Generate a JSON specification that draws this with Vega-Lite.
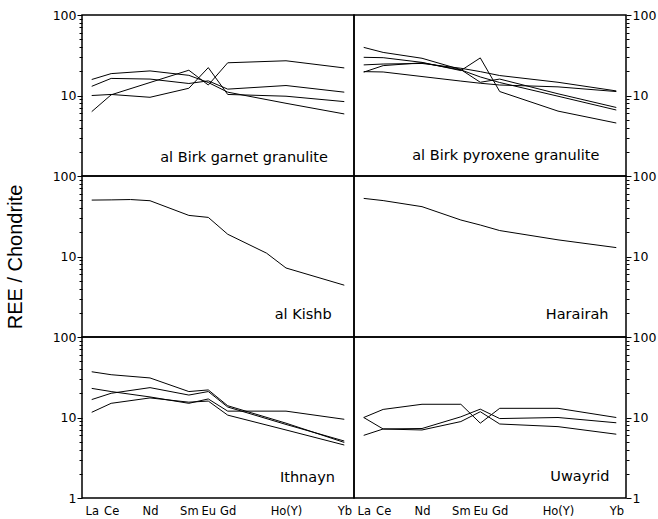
{
  "$schema": "https://vega.github.io/schema/vega-lite/v6.json",
  "background": "white",
  "padding": {"left": 4, "right": 3, "top": 8, "bottom": 0},
  "config": {
    "view": {"stroke": "black", "strokeWidth": 1.5},
    "font": "DejaVu Sans",
    "axis": {"labelFont": "DejaVu Sans", "labelColor": "black", "tickColor": "black", "grid": false, "domain": false, "labelOverlap": false, "labelFlush": false, "titleColor": "black"},
    "text": {"font": "DejaVu Sans", "color": "black"}
  },
  "datasets": {
    "ree": [
      {"panel":"gg","sample":1,"z":57,"ree":15.8},{"panel":"gg","sample":1,"z":58,"ree":18.7},{"panel":"gg","sample":1,"z":60,"ree":20.2},{"panel":"gg","sample":1,"z":62,"ree":17.8},{"panel":"gg","sample":1,"z":63,"ree":14.5},{"panel":"gg","sample":1,"z":64,"ree":11},{"panel":"gg","sample":1,"z":67,"ree":8},{"panel":"gg","sample":1,"z":70,"ree":5.9},
      {"panel":"gg","sample":2,"z":57,"ree":13},{"panel":"gg","sample":2,"z":58,"ree":16.3},{"panel":"gg","sample":2,"z":60,"ree":16},{"panel":"gg","sample":2,"z":62,"ree":14.1},{"panel":"gg","sample":2,"z":63,"ree":15.2},{"panel":"gg","sample":2,"z":64,"ree":12},{"panel":"gg","sample":2,"z":67,"ree":13.3},{"panel":"gg","sample":2,"z":70,"ree":11},
      {"panel":"gg","sample":3,"z":57,"ree":10},{"panel":"gg","sample":3,"z":58,"ree":10.3},{"panel":"gg","sample":3,"z":60,"ree":9.5},{"panel":"gg","sample":3,"z":62,"ree":12.3},{"panel":"gg","sample":3,"z":63,"ree":22.2},{"panel":"gg","sample":3,"z":64,"ree":10.3},{"panel":"gg","sample":3,"z":67,"ree":9.8},{"panel":"gg","sample":3,"z":70,"ree":8.4},
      {"panel":"gg","sample":4,"z":57,"ree":6.3},{"panel":"gg","sample":4,"z":58,"ree":10.2},{"panel":"gg","sample":4,"z":60,"ree":14.5},{"panel":"gg","sample":4,"z":62,"ree":20.6},{"panel":"gg","sample":4,"z":63,"ree":13.5},{"panel":"gg","sample":4,"z":64,"ree":25.5},{"panel":"gg","sample":4,"z":67,"ree":27},{"panel":"gg","sample":4,"z":70,"ree":22},

      {"panel":"pg","sample":1,"z":57,"ree":39.6},{"panel":"pg","sample":1,"z":58,"ree":34.3},{"panel":"pg","sample":1,"z":60,"ree":29},{"panel":"pg","sample":1,"z":62,"ree":21},{"panel":"pg","sample":1,"z":63,"ree":14.6},{"panel":"pg","sample":1,"z":64,"ree":16},{"panel":"pg","sample":1,"z":67,"ree":10.5},{"panel":"pg","sample":1,"z":70,"ree":7.1},
      {"panel":"pg","sample":2,"z":57,"ree":29.8},{"panel":"pg","sample":2,"z":58,"ree":29.5},{"panel":"pg","sample":2,"z":60,"ree":25.8},{"panel":"pg","sample":2,"z":62,"ree":20.4},{"panel":"pg","sample":2,"z":63,"ree":29.3},{"panel":"pg","sample":2,"z":64,"ree":11.2},{"panel":"pg","sample":2,"z":67,"ree":6.4},{"panel":"pg","sample":2,"z":70,"ree":4.55},
      {"panel":"pg","sample":3,"z":57,"ree":24},{"panel":"pg","sample":3,"z":58,"ree":24.6},{"panel":"pg","sample":3,"z":60,"ree":25},{"panel":"pg","sample":3,"z":62,"ree":21.8},{"panel":"pg","sample":3,"z":63,"ree":19.8},{"panel":"pg","sample":3,"z":64,"ree":17.7},{"panel":"pg","sample":3,"z":67,"ree":14.6},{"panel":"pg","sample":3,"z":70,"ree":11.4},
      {"panel":"pg","sample":4,"z":57,"ree":19.5},{"panel":"pg","sample":4,"z":58,"ree":23.5},{"panel":"pg","sample":4,"z":60,"ree":25.5},{"panel":"pg","sample":4,"z":62,"ree":20.8},{"panel":"pg","sample":4,"z":63,"ree":17},{"panel":"pg","sample":4,"z":64,"ree":14.5},{"panel":"pg","sample":4,"z":67,"ree":9.8},{"panel":"pg","sample":4,"z":70,"ree":6.6},
      {"panel":"pg","sample":5,"z":57,"ree":19.8},{"panel":"pg","sample":5,"z":58,"ree":19.6},{"panel":"pg","sample":5,"z":60,"ree":17.2},{"panel":"pg","sample":5,"z":62,"ree":15.1},{"panel":"pg","sample":5,"z":63,"ree":14.2},{"panel":"pg","sample":5,"z":64,"ree":13.5},{"panel":"pg","sample":5,"z":67,"ree":12.8},{"panel":"pg","sample":5,"z":70,"ree":11.2},

      {"panel":"ak","sample":1,"z":57,"ree":50.2},{"panel":"ak","sample":1,"z":58,"ree":50.5},{"panel":"ak","sample":1,"z":59,"ree":51},{"panel":"ak","sample":1,"z":60,"ree":49.3},{"panel":"ak","sample":1,"z":62,"ree":32.4},{"panel":"ak","sample":1,"z":63,"ree":30.6},{"panel":"ak","sample":1,"z":64,"ree":18.9},{"panel":"ak","sample":1,"z":66,"ree":11},{"panel":"ak","sample":1,"z":67,"ree":7.2},{"panel":"ak","sample":1,"z":70,"ree":4.4},

      {"panel":"hr","sample":1,"z":57,"ree":52.7},{"panel":"hr","sample":1,"z":58,"ree":49.5},{"panel":"hr","sample":1,"z":60,"ree":41.6},{"panel":"hr","sample":1,"z":62,"ree":28.4},{"panel":"hr","sample":1,"z":63,"ree":24.6},{"panel":"hr","sample":1,"z":64,"ree":21},{"panel":"hr","sample":1,"z":67,"ree":16.1},{"panel":"hr","sample":1,"z":70,"ree":12.9},

      {"panel":"it","sample":1,"z":57,"ree":37},{"panel":"it","sample":1,"z":58,"ree":34},{"panel":"it","sample":1,"z":60,"ree":31},{"panel":"it","sample":1,"z":62,"ree":21},{"panel":"it","sample":1,"z":63,"ree":22},{"panel":"it","sample":1,"z":64,"ree":14},{"panel":"it","sample":1,"z":67,"ree":8.5},{"panel":"it","sample":1,"z":70,"ree":4.9},
      {"panel":"it","sample":2,"z":57,"ree":23},{"panel":"it","sample":2,"z":58,"ree":21},{"panel":"it","sample":2,"z":60,"ree":18},{"panel":"it","sample":2,"z":62,"ree":15},{"panel":"it","sample":2,"z":63,"ree":17},{"panel":"it","sample":2,"z":64,"ree":12},{"panel":"it","sample":2,"z":67,"ree":12},{"panel":"it","sample":2,"z":70,"ree":9.5},
      {"panel":"it","sample":3,"z":57,"ree":16.7},{"panel":"it","sample":3,"z":58,"ree":20},{"panel":"it","sample":3,"z":60,"ree":23.5},{"panel":"it","sample":3,"z":62,"ree":19},{"panel":"it","sample":3,"z":63,"ree":21},{"panel":"it","sample":3,"z":64,"ree":13.5},{"panel":"it","sample":3,"z":67,"ree":8.2},{"panel":"it","sample":3,"z":70,"ree":5.1},
      {"panel":"it","sample":4,"z":57,"ree":11.6},{"panel":"it","sample":4,"z":58,"ree":15},{"panel":"it","sample":4,"z":60,"ree":17.5},{"panel":"it","sample":4,"z":62,"ree":15.5},{"panel":"it","sample":4,"z":63,"ree":16},{"panel":"it","sample":4,"z":64,"ree":10.7},{"panel":"it","sample":4,"z":67,"ree":7},{"panel":"it","sample":4,"z":70,"ree":4.55},

      {"panel":"uw","sample":1,"z":57,"ree":10},{"panel":"uw","sample":1,"z":58,"ree":12.6},{"panel":"uw","sample":1,"z":60,"ree":14.6},{"panel":"uw","sample":1,"z":62,"ree":14.6},{"panel":"uw","sample":1,"z":63,"ree":8.5},{"panel":"uw","sample":1,"z":64,"ree":13},{"panel":"uw","sample":1,"z":67,"ree":13},{"panel":"uw","sample":1,"z":70,"ree":10},
      {"panel":"uw","sample":2,"z":57,"ree":10},{"panel":"uw","sample":2,"z":58,"ree":7.2},{"panel":"uw","sample":2,"z":60,"ree":7.3},{"panel":"uw","sample":2,"z":62,"ree":10.2},{"panel":"uw","sample":2,"z":63,"ree":12.7},{"panel":"uw","sample":2,"z":64,"ree":9.7},{"panel":"uw","sample":2,"z":67,"ree":10},{"panel":"uw","sample":2,"z":70,"ree":8.6},
      {"panel":"uw","sample":3,"z":57,"ree":6},{"panel":"uw","sample":3,"z":58,"ree":7.2},{"panel":"uw","sample":3,"z":60,"ree":7},{"panel":"uw","sample":3,"z":62,"ree":8.9},{"panel":"uw","sample":3,"z":63,"ree":11.8},{"panel":"uw","sample":3,"z":64,"ree":8.3},{"panel":"uw","sample":3,"z":67,"ree":7.7},{"panel":"uw","sample":3,"z":70,"ree":6.2}
    ]
  },
  "columns": 2,
  "spacing": 0,
  "bounds": "flush",
  "concat": [
    {
      "width": 272, "height": 161,
      "layer": [
        {
          "data": {"name": "ree"},
          "transform": [{"filter": "datum.panel === 'gg'"}],
          "mark": {"type": "line", "color": "black", "strokeWidth": 1},
          "encoding": {
            "x": {"field": "z", "type": "quantitative", "scale": {"domain": [56.5, 70.5], "nice": false, "zero": false}, "axis": null},
            "y": {"field": "ree", "type": "quantitative", "scale": {"type": "log", "domain": [1, 100], "nice": false}, "axis": {"orient": "left", "title": null, "tickCount": 40, "labelOverlap": false, "values": [1,2,3,4,5,6,7,8,9,10,20,30,40,50,60,70,80,90,100], "labelExpr": "datum.value == 10 ? '10' : datum.value == 100 ? '100' : ''", "tickSize": {"condition": {"test": "datum.value == 10 || datum.value == 100", "value": 5}, "value": 3}, "labelFontSize": 12.5, "labelPadding": 1}},
            "detail": {"field": "sample", "type": "nominal"}
          }
        },
        {
          "data": {"values": [{"label": "al Birk garnet granulite"}]},
          "mark": {"type": "text", "align": "right", "baseline": "alphabetic", "fontSize": 14.5},
          "encoding": {"x": {"datum": 69.16, "type": "quantitative"}, "y": {"datum": 1.51, "type": "quantitative"}, "text": {"field": "label", "type": "nominal"}}
        }
      ]
    },
    {
      "width": 272, "height": 161,
      "layer": [
        {
          "data": {"name": "ree"},
          "transform": [{"filter": "datum.panel === 'pg'"}],
          "mark": {"type": "line", "color": "black", "strokeWidth": 1},
          "encoding": {
            "x": {"field": "z", "type": "quantitative", "scale": {"domain": [56.5, 70.5], "nice": false, "zero": false}, "axis": null},
            "y": {"field": "ree", "type": "quantitative", "scale": {"type": "log", "domain": [1, 100], "nice": false}, "axis": {"orient": "right", "title": null, "tickCount": 40, "labelOverlap": false, "values": [1,2,3,4,5,6,7,8,9,10,20,30,40,50,60,70,80,90,100], "labelExpr": "datum.value == 10 ? '10' : datum.value == 100 ? '100' : ''", "tickSize": {"condition": {"test": "datum.value == 10 || datum.value == 100", "value": 5}, "value": 3}, "labelFontSize": 12.5, "labelPadding": 1}},
            "detail": {"field": "sample", "type": "nominal"}
          }
        },
        {
          "data": {"values": [{"label": "al Birk pyroxene granulite"}]},
          "mark": {"type": "text", "align": "right", "baseline": "alphabetic", "fontSize": 14.5},
          "encoding": {"x": {"datum": 69.13, "type": "quantitative"}, "y": {"datum": 1.57, "type": "quantitative"}, "text": {"field": "label", "type": "nominal"}}
        }
      ]
    },
    {
      "width": 272, "height": 161,
      "layer": [
        {
          "data": {"name": "ree"},
          "transform": [{"filter": "datum.panel === 'ak'"}],
          "mark": {"type": "line", "color": "black", "strokeWidth": 1},
          "encoding": {
            "x": {"field": "z", "type": "quantitative", "scale": {"domain": [56.5, 70.5], "nice": false, "zero": false}, "axis": null},
            "y": {"field": "ree", "type": "quantitative", "scale": {"type": "log", "domain": [1, 100], "nice": false}, "axis": {"orient": "left", "title": "REE / Chondrite", "titleFont": "Liberation Sans", "titleFontSize": 20, "titleFontWeight": "normal", "titlePadding": 27, "tickCount": 40, "labelOverlap": false, "values": [1,2,3,4,5,6,7,8,9,10,20,30,40,50,60,70,80,90,100], "labelExpr": "datum.value == 10 ? '10' : datum.value == 100 ? '100' : ''", "tickSize": {"condition": {"test": "datum.value == 10 || datum.value == 100", "value": 5}, "value": 3}, "labelFontSize": 12.5, "labelPadding": 1}},
            "detail": {"field": "sample", "type": "nominal"}
          }
        },
        {
          "data": {"values": [{"label": "al Kishb"}]},
          "mark": {"type": "text", "align": "right", "baseline": "alphabetic", "fontSize": 14.5},
          "encoding": {"x": {"datum": 69.35, "type": "quantitative"}, "y": {"datum": 1.69, "type": "quantitative"}, "text": {"field": "label", "type": "nominal"}}
        }
      ]
    },
    {
      "width": 272, "height": 161,
      "layer": [
        {
          "data": {"name": "ree"},
          "transform": [{"filter": "datum.panel === 'hr'"}],
          "mark": {"type": "line", "color": "black", "strokeWidth": 1},
          "encoding": {
            "x": {"field": "z", "type": "quantitative", "scale": {"domain": [56.5, 70.5], "nice": false, "zero": false}, "axis": null},
            "y": {"field": "ree", "type": "quantitative", "scale": {"type": "log", "domain": [1, 100], "nice": false}, "axis": {"orient": "right", "title": null, "tickCount": 40, "labelOverlap": false, "values": [1,2,3,4,5,6,7,8,9,10,20,30,40,50,60,70,80,90,100], "labelExpr": "datum.value == 10 ? '10' : datum.value == 100 ? '100' : ''", "tickSize": {"condition": {"test": "datum.value == 10 || datum.value == 100", "value": 5}, "value": 3}, "labelFontSize": 12.5, "labelPadding": 1}},
            "detail": {"field": "sample", "type": "nominal"}
          }
        },
        {
          "data": {"values": [{"label": "Harairah"}]},
          "mark": {"type": "text", "align": "right", "baseline": "alphabetic", "fontSize": 14.5},
          "encoding": {"x": {"datum": 69.6, "type": "quantitative"}, "y": {"datum": 1.65, "type": "quantitative"}, "text": {"field": "label", "type": "nominal"}}
        }
      ]
    },
    {
      "width": 272, "height": 161,
      "layer": [
        {
          "data": {"name": "ree"},
          "transform": [{"filter": "datum.panel === 'it'"}],
          "mark": {"type": "line", "color": "black", "strokeWidth": 1},
          "encoding": {
            "x": {"field": "z", "type": "quantitative", "scale": {"domain": [56.5, 70.5], "nice": false, "zero": false}, "axis": {"orient": "bottom", "title": null, "tickCount": 40, "labelOverlap": false, "labelBound": false, "values": [57,58,60,62,63,64,67,70], "labelExpr": "datum.value == 57 ? 'La' : datum.value == 58 ? 'Ce' : datum.value == 60 ? 'Nd' : datum.value == 62 ? 'Sm' : datum.value == 63 ? 'Eu' : datum.value == 64 ? 'Gd' : datum.value == 67 ? 'Ho(Y)' : 'Yb'", "ticks": false, "labelFontSize": 11.5, "labelPadding": 7}},
            "y": {"field": "ree", "type": "quantitative", "scale": {"type": "log", "domain": [1, 100], "nice": false}, "axis": {"orient": "left", "title": null, "tickCount": 40, "labelOverlap": false, "values": [1,2,3,4,5,6,7,8,9,10,20,30,40,50,60,70,80,90,100], "labelExpr": "datum.value == 1 ? '1' : datum.value == 10 ? '10' : datum.value == 100 ? '100' : ''", "tickSize": {"condition": {"test": "datum.value == 1 || datum.value == 10 || datum.value == 100", "value": 5}, "value": 3}, "labelFontSize": 12.5, "labelPadding": 1}},
            "detail": {"field": "sample", "type": "nominal"}
          }
        },
        {
          "data": {"values": [{"label": "Ithnayn"}]},
          "mark": {"type": "text", "align": "right", "baseline": "alphabetic", "fontSize": 14.5},
          "encoding": {"x": {"datum": 69.52, "type": "quantitative"}, "y": {"datum": 1.58, "type": "quantitative"}, "text": {"field": "label", "type": "nominal"}}
        }
      ]
    },
    {
      "width": 272, "height": 161,
      "layer": [
        {
          "data": {"name": "ree"},
          "transform": [{"filter": "datum.panel === 'uw'"}],
          "mark": {"type": "line", "color": "black", "strokeWidth": 1},
          "encoding": {
            "x": {"field": "z", "type": "quantitative", "scale": {"domain": [56.5, 70.5], "nice": false, "zero": false}, "axis": {"orient": "bottom", "title": null, "tickCount": 40, "labelOverlap": false, "labelBound": false, "values": [57,58,60,62,63,64,67,70], "labelExpr": "datum.value == 57 ? 'La' : datum.value == 58 ? 'Ce' : datum.value == 60 ? 'Nd' : datum.value == 62 ? 'Sm' : datum.value == 63 ? 'Eu' : datum.value == 64 ? 'Gd' : datum.value == 67 ? 'Ho(Y)' : 'Yb'", "ticks": false, "labelFontSize": 11.5, "labelPadding": 7}},
            "y": {"field": "ree", "type": "quantitative", "scale": {"type": "log", "domain": [1, 100], "nice": false}, "axis": {"orient": "right", "title": null, "tickCount": 40, "labelOverlap": false, "values": [1,2,3,4,5,6,7,8,9,10,20,30,40,50,60,70,80,90,100], "labelExpr": "datum.value == 1 ? '1' : datum.value == 10 ? '10' : datum.value == 100 ? '100' : ''", "tickSize": {"condition": {"test": "datum.value == 1 || datum.value == 10 || datum.value == 100", "value": 5}, "value": 3}, "labelFontSize": 12.5, "labelPadding": 1}},
            "detail": {"field": "sample", "type": "nominal"}
          }
        },
        {
          "data": {"values": [{"label": "Uwayrid"}]},
          "mark": {"type": "text", "align": "right", "baseline": "alphabetic", "fontSize": 14.5},
          "encoding": {"x": {"datum": 69.65, "type": "quantitative"}, "y": {"datum": 1.63, "type": "quantitative"}, "text": {"field": "label", "type": "nominal"}}
        }
      ]
    }
  ]
}
